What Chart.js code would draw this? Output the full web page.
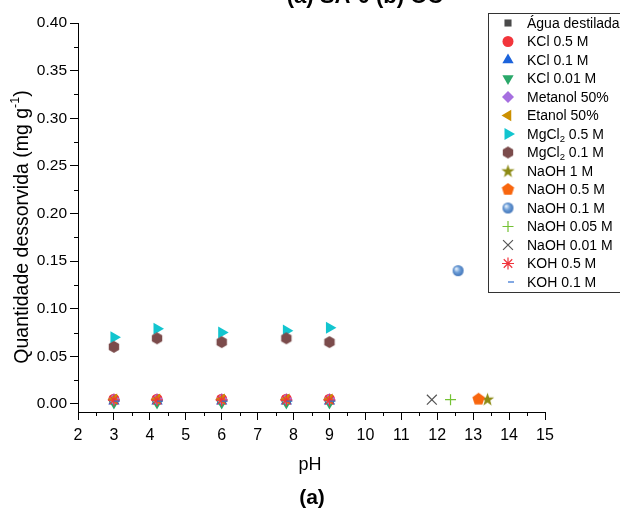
<!DOCTYPE html>
<html>
<head>
<meta charset="utf-8">
<script src="https://cdn.jsdelivr.net/npm/chart.js@4"></script>
<style>
  html, body { margin: 0; padding: 0; background: #fff; }
  #wrap { width: 620px; height: 512px; }
</style>
</head>
<body>
<div id="wrap"><canvas id="plot" width="620" height="512"></canvas></div>
<script>
'use strict';

// pH values of the acid/neutral runs
const PH_RUNS = [3, 4.2, 6, 7.8, 9];

// desorbed amount (mg g-1) per eluent at PH_RUNS
const AGUA = [0.004, 0.004, 0.004, 0.004, 0.004];
const KCL_05 = [0.005, 0.005, 0.005, 0.005, 0.005];
const KCL_01 = [0.003, 0.003, 0.003, 0.003, 0.003];
const KCL_001 = [0.001, 0.001, 0.001, 0.001, 0.001];
const METANOL = [0.005, 0.005, 0.005, 0.005, 0.005];
const ETANOL = [0.005, 0.005, 0.005, 0.005, 0.005];
const MGCL2_05 = [0.070, 0.079, 0.075, 0.077, 0.080];
const MGCL2_01 = [0.060, 0.069, 0.065, 0.069, 0.065];
const KOH_05 = [0.004, 0.004, 0.004, 0.004, 0.004];
const KOH_01 = [0.003, 0.003, 0.003, 0.003, 0.003];

// NaOH runs, one point each: 1 M, 0.5 M, 0.1 M, 0.05 M, 0.01 M
const NAOH_PH = [13.4, 13.15, 12.58, 12.37, 11.85];
const NAOH_Q = [0.005, 0.005, 0.140, 0.0045, 0.0045];

const FONT = '"Liberation Sans", Arial, sans-serif';

function makeMarker(size, draw) {
    const c = document.createElement('canvas');
    c.width = size; c.height = size;
    draw(c.getContext('2d'), size / 2);
    return c;
}

function polygon(n, r, color, rot) {
    return makeMarker(2 * r + 2, function (g, c) {
        g.beginPath();
        for (let i = 0; i < n; i++) {
            const a = rot + i * 2 * Math.PI / n;
            g.lineTo(c + r * Math.cos(a), c + r * Math.sin(a));
        }
        g.closePath();
        g.fillStyle = color;
        g.fill();
    });
}

const hexagon = polygon(6, 6, '#7b4b4b', Math.PI / 6);
const pentagon = polygon(5, 6.5, '#f8660e', -Math.PI / 2);

const star5 = makeMarker(15, function (g, c) {
    g.beginPath();
    for (let i = 0; i < 10; i++) {
        const r = i % 2 ? 2.8 : 7;
        const a = -Math.PI / 2 + i * Math.PI / 5;
        g.lineTo(c + r * Math.cos(a), c + 0.5 + r * Math.sin(a));
    }
    g.closePath();
    g.fillStyle = '#8c8a14';
    g.fill();
});

const sphere = makeMarker(13, function (g, c) {
    const grd = g.createRadialGradient(c - 2, c - 2, 0.5, c, c, 6);
    grd.addColorStop(0, '#e6f0fb');
    grd.addColorStop(0.45, '#6e9fd8');
    grd.addColorStop(1, '#3a6eb4');
    g.beginPath();
    g.arc(c, c, 5.5, 0, 2 * Math.PI);
    g.fillStyle = grd;
    g.fill();
});

function pts(xs, ys) {
    return xs.map((x, i) => ({ x: x, y: ys[i] }));
}

const series = [
    { label: 'Água destilada', data: pts(PH_RUNS, AGUA), color: '#4a4a4a', style: 'rect', r: 5 },
    { label: 'KCl 0.5 M', data: pts(PH_RUNS, KCL_05), color: '#f2353b', style: 'circle', r: 5.5 },
    { label: 'KCl 0.1 M', data: pts(PH_RUNS, KCL_01), color: '#1c63db', style: 'triangle', r: 6.5 },
    { label: 'KCl 0.01 M', data: pts(PH_RUNS, KCL_001), color: '#2aa86a', style: 'triangle', r: 6.5, rot: 180 },
    { label: 'Metanol 50%', data: pts(PH_RUNS, METANOL), color: '#a66fe0', style: 'rectRot', r: 6 },
    { label: 'Etanol 50%', data: pts(PH_RUNS, ETANOL), color: '#cc9000', style: 'triangle', r: 6.5, rot: 270 },
    { label: 'MgCl|2| 0.5 M', data: pts(PH_RUNS, MGCL2_05), color: '#12c5cf', style: 'triangle', r: 7, rot: 90 },
    { label: 'MgCl|2| 0.1 M', data: pts(PH_RUNS, MGCL2_01), color: '#7b4b4b', style: hexagon, r: 6 },
    { label: 'NaOH 1 M', data: [{ x: NAOH_PH[0], y: NAOH_Q[0] }], color: '#8c8a14', style: star5, r: 7 },
    { label: 'NaOH 0.5 M', data: [{ x: NAOH_PH[1], y: NAOH_Q[1] }], color: '#f8660e', style: pentagon, r: 6 },
    { label: 'NaOH 0.1 M', data: [{ x: NAOH_PH[2], y: NAOH_Q[2] }], color: '#5b8fd0', style: sphere, r: 6 },
    { label: 'NaOH 0.05 M', data: [{ x: NAOH_PH[3], y: NAOH_Q[3] }], color: '#74c234', style: 'cross', r: 5.5, line: true },
    { label: 'NaOH 0.01 M', data: [{ x: NAOH_PH[4], y: NAOH_Q[4] }], color: '#555555', style: 'crossRot', r: 7, line: true },
    { label: 'KOH 0.5 M', data: pts(PH_RUNS, KOH_05), color: '#f0343c', style: 'star', r: 6, line: true },
    { label: 'KOH 0.1 M', data: pts(PH_RUNS, KOH_01), color: '#2f6fd0', style: 'dash', r: 6, line: true }
];

// later datasets drawn on top: reverse order keeps the first series on top
const datasets = series.map((s, i) => ({
    label: s.label,
    data: s.data,
    showLine: false,
    pointStyle: s.style,
    pointRadius: s.r,
    pointHoverRadius: s.r,
    pointRotation: s.rot || 0,
    backgroundColor: s.color,
    borderColor: s.color,
    pointBorderWidth: s.line ? 1.2 : 0,
    order: series.length - i
}));

function drawLabel(g, text, x, y, size) {
    // "MgCl|2| 0.5 M" -> subscript between bars
    const parts = text.split('|');
    let cx = x;
    parts.forEach((p, i) => {
        if (i % 2 === 1) {
            g.font = (size * 0.68) + 'px ' + FONT;
            g.fillText(p, cx, y + 4);
        } else {
            g.font = size + 'px ' + FONT;
            g.fillText(p, cx, y);
        }
        cx += g.measureText(p).width;
    });
}

const decorations = {
    id: 'decorations',
    afterDraw(chart) {
        const g = chart.ctx;
        const xs = chart.scales.x, ys = chart.scales.y;
        g.save();

        // minor ticks
        g.strokeStyle = '#000';
        g.lineWidth = 1;
        g.beginPath();
        for (let v = 2.5; v < 15; v += 1) {
            const px = Math.round(xs.getPixelForValue(v)) + 0.5;
            g.moveTo(px, ys.bottom);
            g.lineTo(px, ys.bottom + 4);
        }
        for (let v = 0.025; v < 0.4; v += 0.05) {
            const py = Math.round(ys.getPixelForValue(v)) + 0.5;
            g.moveTo(xs.left, py);
            g.lineTo(xs.left - 4, py);
        }
        g.stroke();

        // y axis title with superscript
        g.fillStyle = '#000';
        g.textBaseline = 'alphabetic';
        g.translate(28, 227);
        g.rotate(-Math.PI / 2);
        const big = 19.5, small = 12.5;
        const main = 'Quantidade dessorvida (mg g';
        g.font = big + 'px ' + FONT;
        const w1 = g.measureText(main).width;
        g.font = small + 'px ' + FONT;
        const w2 = g.measureText('-1').width;
        g.font = big + 'px ' + FONT;
        const w3 = g.measureText(')').width;
        let sx = -(w1 + w2 + w3) / 2;
        g.fillText(main, sx, 0);
        g.font = small + 'px ' + FONT;
        g.fillText('-1', sx + w1, -9);
        g.font = big + 'px ' + FONT;
        g.fillText(')', sx + w1 + w2, 0);
        g.setTransform(1, 0, 0, 1, 0, 0);

        // x axis title
        g.textAlign = 'center';
        g.textBaseline = 'middle';
        g.font = '18px ' + FONT;
        g.fillText('pH', 310, 465);

        // panel label
        g.font = 'bold 21px ' + FONT;
        g.fillText('(a)', 312, 498);

        // cut-off title at the top
        g.textBaseline = 'alphabetic';
        g.font = 'bold 22px ' + FONT;
        g.fillText('(a) SA-0 (b) OC', 365, 3);
        g.textAlign = 'left';

        // legend box
        const lx = 488.5, ly = 13.5, step = 18.5;
        g.fillStyle = '#fff';
        g.fillRect(lx, ly, 140, 279);
        g.strokeStyle = '#333';
        g.lineWidth = 1;
        g.strokeRect(lx, ly, 140, 279);
        g.textBaseline = 'middle';
        series.forEach((s, i) => {
            const y = 23 + i * step;
            g.fillStyle = s.color;
            g.strokeStyle = s.color;
            g.lineWidth = s.line ? 1.2 : 0;
            Chart.helpers.drawPoint(g, {
                pointStyle: s.style,
                radius: s.r,
                rotation: s.rot || 0,
                borderWidth: s.line ? 1.2 : 0
            }, 508, y);
            g.fillStyle = '#000';
            drawLabel(g, s.label, 527, y + 1, 14);
        });
        g.restore();
    }
};

new Chart(document.getElementById('plot'), {
    type: 'scatter',
    data: { datasets: datasets },
    options: {
        responsive: false,
        animation: false,
        events: [],
        layout: { padding: { left: 0, top: 23, right: 75, bottom: 0 } },
        plugins: {
            legend: { display: false },
            tooltip: { enabled: false }
        },
        scales: {
            x: {
                type: 'linear',
                min: 2,
                max: 15,
                afterFit: function (scale) { scale.height = 100; },
                border: { display: true, color: '#000', width: 1 },
                grid: { drawOnChartArea: false, drawTicks: true, tickLength: 8, tickColor: '#000' },
                ticks: {
                    stepSize: 1,
                    includeBounds: false,
                    color: '#000',
                    padding: 6,
                    maxRotation: 0,
                    font: { family: FONT, size: 16 }
                }
            },
            y: {
                type: 'linear',
                min: -0.0084,
                max: 0.40,
                afterFit: function (scale) { scale.width = 78; },
                border: { display: true, color: '#000', width: 1 },
                grid: { drawOnChartArea: false, drawTicks: true, tickLength: 8, tickColor: '#000' },
                ticks: {
                    stepSize: 0.05,
                    includeBounds: false,
                    color: '#000',
                    padding: 3,
                    font: { family: FONT, size: 15.5 },
                    callback: function (v) { return v.toFixed(2); }
                }
            }
        }
    },
    plugins: [decorations]
});
</script>
</body>
</html>
